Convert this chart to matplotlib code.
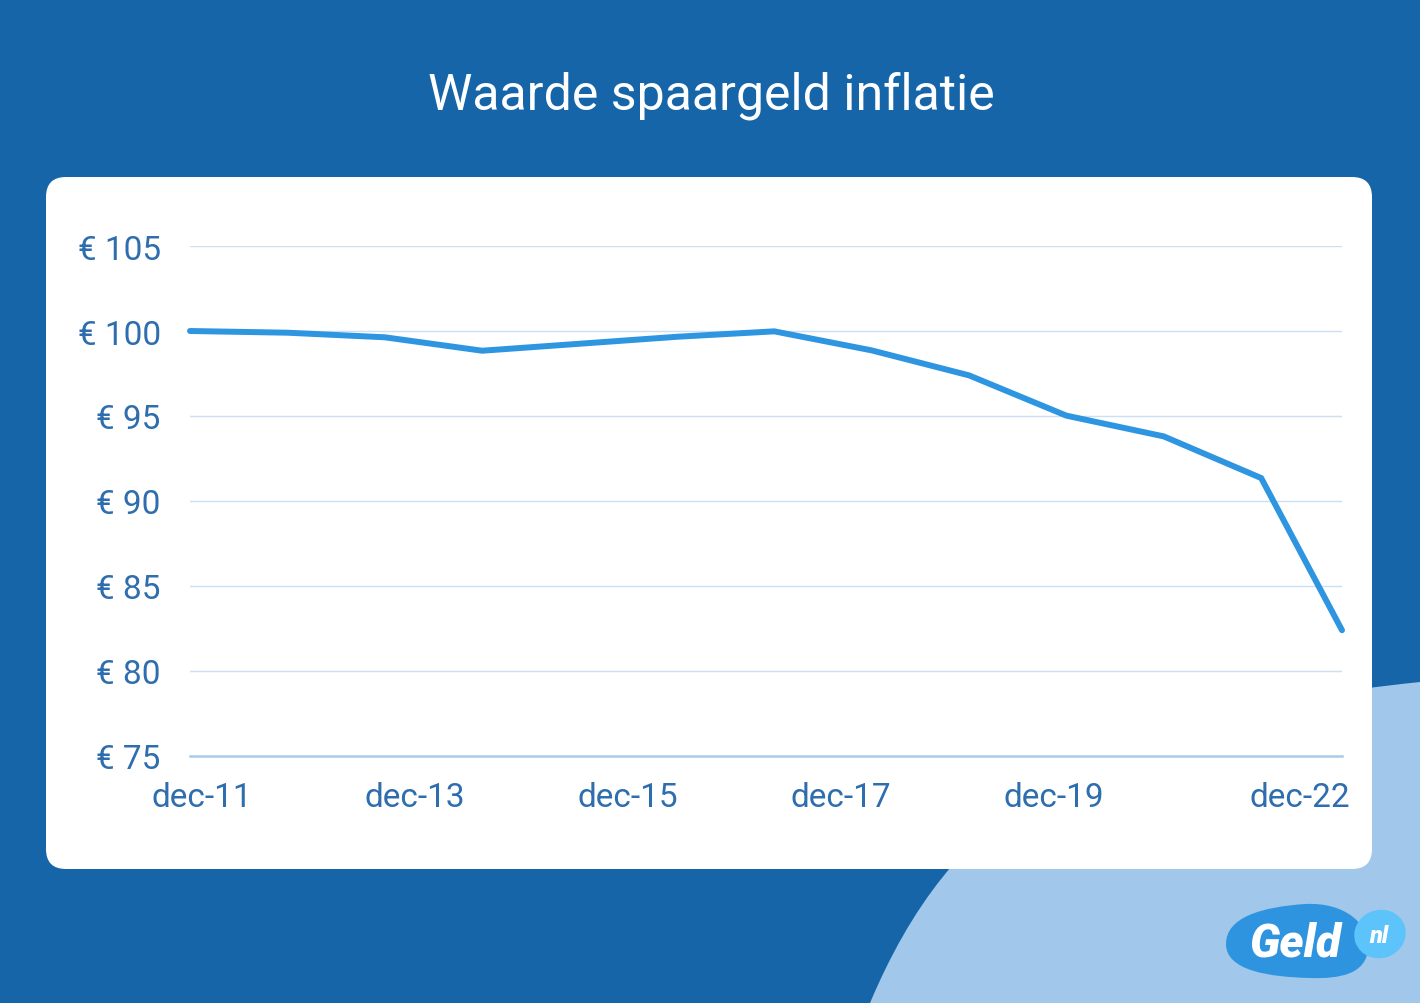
import matplotlib
matplotlib.use("Agg")
import matplotlib.pyplot as plt
from matplotlib.patches import Rectangle, FancyBboxPatch, PathPatch, Ellipse
from matplotlib.path import Path

# ---- data ----
title = "Waarde spaargeld inflatie"
x_index = [0, 1, 2, 3, 4, 5, 6, 7, 8, 9, 10, 11, 11.83]
values = [100.0, 99.9, 99.63, 98.84, 99.25, 99.66, 99.98, 98.86, 97.39, 95.02, 93.8, 91.35, 82.4]
x_tick_pos = [0.12, 2.31, 4.50, 6.68, 8.87, 11.40]
x_tick_labels = ["dec-11", "dec-13", "dec-15", "dec-17", "dec-19", "dec-22"]
y_ticks = [75, 80, 85, 90, 95, 100, 105]
y_tick_labels = ["€ 75", "€ 80", "€ 85", "€ 90", "€ 95", "€ 100", "€ 105"]

DARK = "#1565A8"
LIGHT = "#A1C7EA"
LINE = "#2E95E1"
TEXT = "#2E6DAE"
GRID = "#CBE0F4"
AXLINE = "#A8CBEB"

plt.rcParams["font.family"] = ["Roboto", "DejaVu Sans"]

W, H = 1420, 1004
fig = plt.figure(figsize=(W / 100, H / 100), dpi=100)

# ---- background decorations (pixel coordinates) ----
bg = fig.add_axes([0, 0, 1, 1])
bg.set_xlim(0, W)
bg.set_ylim(H, 0)
bg.axis("off")
bg.add_patch(Rectangle((0, 0), W, H, color=DARK, zorder=0))

verts = [(870, 1004), (951, 812), (1084, 718), (1420, 683), (1420, 1004), (870, 1004)]
codes = [Path.MOVETO, Path.CURVE4, Path.CURVE4, Path.CURVE4, Path.LINETO, Path.CLOSEPOLY]
bg.add_patch(PathPatch(Path(verts, codes), facecolor=LIGHT, edgecolor="none", zorder=1))

bg.add_patch(FancyBboxPatch((46, 178), 1326, 692,
                            boxstyle="round,pad=0,rounding_size=20",
                            facecolor="white", edgecolor="none", zorder=2))

bg.text(711, 110, title, ha="center", va="baseline", fontsize=36, color="white")

# logo
blob_v = [(1226, 945),
          (1226, 918), (1262, 908), (1305, 905),
          (1345, 903), (1370, 925), (1368, 950),
          (1366, 975), (1340, 980), (1310, 979),
          (1270, 978), (1226, 972), (1226, 945),
          (1226, 945)]
blob_c = [Path.MOVETO] + [Path.CURVE4] * 12 + [Path.CLOSEPOLY]
bg.add_patch(PathPatch(Path(blob_v, blob_c), facecolor="#2E94E0", edgecolor="none", zorder=3))
bg.add_patch(Ellipse((1380, 935), 52, 48, angle=-20, facecolor="#5CC3FB", edgecolor="none", zorder=4))
bg.text(1295, 957, "Geld", ha="center", va="baseline", fontsize=33, color="white",
        fontweight="black", fontstyle="italic", zorder=5)
bg.text(1379, 943, "nl", ha="center", va="baseline", fontsize=17, color="white",
        fontweight="black", fontstyle="italic", zorder=5)

# ---- chart ----
ax = fig.add_axes([190 / W, 1 - 757 / H, 1152 / W, 510 / H])
ax.patch.set_alpha(0)
for s in ax.spines.values():
    s.set_visible(False)
ax.set_xlim(0, 11.83)
ax.set_ylim(75, 105)
ax.set_yticks(y_ticks)
ax.set_yticklabels(y_tick_labels)
ax.set_xticks(x_tick_pos)
ax.set_xticklabels(x_tick_labels)
ax.tick_params(axis="both", length=0, labelsize=24, colors=TEXT)
ax.tick_params(axis="y", pad=21)
ax.tick_params(axis="x", pad=18)
for v in y_ticks[1:]:
    ax.axhline(v, color=GRID, lw=1.0, zorder=1)
ax.axhline(75, color=AXLINE, lw=1.8, zorder=1, clip_on=False)
ax.plot(x_index, values, color=LINE, lw=4.3, solid_capstyle="round",
        solid_joinstyle="miter", clip_on=False, zorder=3)

fig.savefig("out.png", dpi=100)
